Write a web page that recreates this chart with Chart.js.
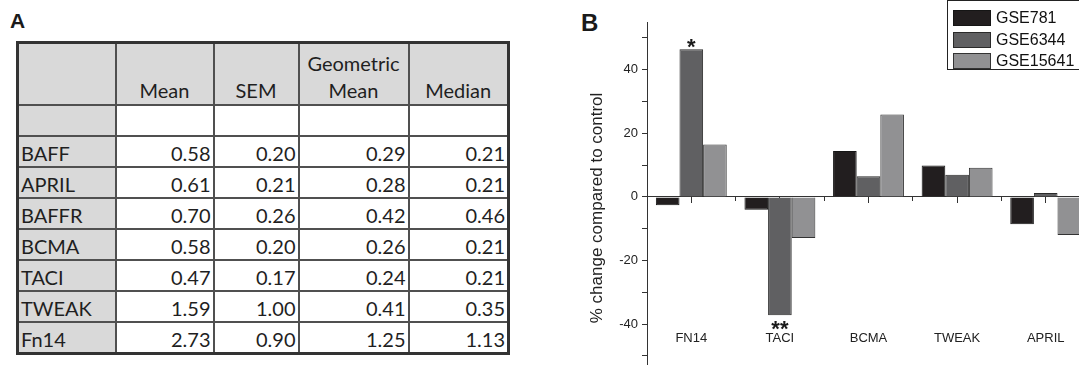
<!DOCTYPE html>
<html>
<head>
<meta charset="utf-8">
<script src="https://cdn.jsdelivr.net/npm/chart.js@4.4.1/dist/chart.umd.min.js"></script>
<style>
  html, body { margin: 0; padding: 0; background: #fff; width: 1079px; height: 365px; overflow: hidden; position: relative; }
  .panel-label { position: absolute; font-family: "Liberation Sans", Arial, sans-serif; font-weight: bold; color: #1a1a1a; }
  #labelA { left: 10px; top: 9px; font-size: 21px; }
  #labelB { left: 581px; top: 9px; font-size: 24px; }
  #statsTable { position: absolute; left: 16px; top: 41px; border-collapse: collapse; table-layout: fixed; width: 491px;
    font-family: Lato, "Open Sans", sans-serif; font-size: 20px; color: #1f1f1f; border: 3px solid #333; }
  #statsTable td { border: 2px solid #505050; padding: 0 2px 1px 2px; vertical-align: bottom; line-height: 24px; white-space: nowrap; overflow: hidden; }
  #statsTable tr.head td { height: 60px; background: #d9d9d9; text-align: center; line-height: 27px; padding-bottom: 0; }
  #statsTable tr.blank td { height: 28px; }
  #statsTable tr.row td { height: 28px; }
  #statsTable td.lab { background: #d9d9d9; text-align: left; }
  #statsTable td.num { text-align: right; }
  #chartB { position: absolute; left: 570px; top: 0; }
</style>
</head>
<body>
<div id="labelA" class="panel-label">A</div>
<table id="statsTable"></table>
<div id="labelB" class="panel-label">B</div>
<canvas id="chartB" width="520" height="375"></canvas>
<script>
// panel A - summary table
const tableHeaders = ['Mean', 'SEM', 'Geometric<br>Mean', 'Median'];
const markers = ['BAFF', 'APRIL', 'BAFFR', 'BCMA', 'TACI', 'TWEAK', 'Fn14'];
const meanVals = [0.58, 0.61, 0.70, 0.58, 0.47, 1.59, 2.73];
const semVals = [0.20, 0.21, 0.26, 0.20, 0.17, 1.00, 0.90];
const geoMeanVals = [0.29, 0.28, 0.42, 0.26, 0.24, 0.41, 1.25];
const medianVals = [0.21, 0.21, 0.46, 0.21, 0.21, 0.35, 1.13];

// panel B - % change compared to control
const categories = ['FN14', 'TACI', 'BCMA', 'TWEAK', 'APRIL'];
const seriesNames = ['GSE781', 'GSE6344', 'GSE15641'];
const gse781 = [-2.6, -4.0, 14.4, 9.9, -8.6];
const gse6344 = [46.4, -37.2, 6.5, 7.0, 1.2];
const gse15641 = [16.5, -12.9, 25.9, 9.2, -12.0];
const sigMarks = ['*', '**', '', '', ''];   // drawn on GSE6344 bars

const FONT = '"Liberation Sans", Arial, sans-serif';

function buildTable() {
  const table = document.getElementById('statsTable');
  let html = '<colgroup><col style="width:98px"><col style="width:98px"><col style="width:85px"><col style="width:110px"><col style="width:100px"></colgroup>';
  html += '<tr class="head"><td class="lab"></td>' + tableHeaders.map(h => '<td>' + h + '</td>').join('') + '</tr>';
  html += '<tr class="blank"><td class="lab"></td><td></td><td></td><td></td><td></td></tr>';
  markers.forEach((m, i) => {
    const cells = [meanVals[i], semVals[i], geoMeanVals[i], medianVals[i]]
      .map(v => '<td class="num">' + v.toFixed(2) + '</td>').join('');
    html += '<tr class="row"><td class="lab">' + m + '</td>' + cells + '</tr>';
  });
  table.innerHTML = html;
}

// asterisks over / under the GSE6344 bars
const sigPlugin = {
  id: 'sigPlugin',
  afterDatasetsDraw(chart) {
    const meta = chart.getDatasetMeta(1);
    const c = chart.ctx;
    const size = 22;
    c.save();
    c.font = 'bold ' + size + 'px ' + FONT;
    c.fillStyle = '#1a1a1a';
    c.textAlign = 'center';
    c.textBaseline = 'alphabetic';
    sigMarks.forEach((mark, i) => {
      if (!mark) return;
      const bar = meta.data[i];
      const cy = gse6344[i] >= 0 ? bar.y - 8 : bar.y + 8;
      c.fillText(mark, bar.x, cy + 0.57 * size);
    });
    c.restore();
  }
};

// boxed legend in the top right corner
const boxLegend = {
  id: 'boxLegend',
  afterDraw(chart) {
    const c = chart.ctx;
    c.save();
    c.fillStyle = '#fff';
    c.fillRect(377.5, 0.5, 200, 69);
    c.strokeStyle = '#222';
    c.lineWidth = 1;
    c.strokeRect(377.5, 0.5, 200, 69);
    chart.data.datasets.forEach((ds, i) => {
      const top = 10 + i * 21.5;
      c.fillStyle = ds.backgroundColor;
      c.fillRect(383.5, Math.round(top) + 0.5, 37, 15);
      c.strokeStyle = ds.borderColor;
      c.strokeRect(383.5, Math.round(top) + 0.5, 37, 15);
      c.fillStyle = '#111';
      c.font = '16px ' + FONT;
      c.textAlign = 'left';
      c.textBaseline = 'middle';
      c.fillText(ds.label, 426, top + 8.7);
    });
    c.restore();
  }
};

// the x axes sit on the zero line, so they must not ask the layout for side padding
function noSidePadding(scale) {
  scale.paddingLeft = 0;
  scale.paddingRight = 0;
}

function buildChart() {
  const ctx = document.getElementById('chartB');
  const tickFont = { family: FONT, size: 13 };
  return new Chart(ctx, {
    type: 'bar',
    data: {
      labels: categories,
      datasets: [
        { label: seriesNames[0], data: gse781, backgroundColor: '#221e1f', borderColor: '#151515', borderWidth: 1 },
        { label: seriesNames[1], data: gse6344, backgroundColor: '#606062', borderColor: '#2a2a2a', borderWidth: 1 },
        { label: seriesNames[2], data: gse15641, backgroundColor: '#919193', borderColor: '#333333', borderWidth: 1 }
      ]
    },
    options: {
      responsive: false,
      animation: false,
      devicePixelRatio: 1,
      layout: { padding: { top: 22, right: 0, bottom: 0, left: 0 } },
      datasets: { bar: { categoryPercentage: 0.8, barPercentage: 1.0 } },
      plugins: { legend: { display: false }, tooltip: { enabled: false } },
      scales: {
        x: {
          type: 'category',
          position: { y: 0 },
          offset: true,
          grid: { drawOnChartArea: false, offset: false, tickLength: 6, color: '#333' },
          border: { display: true, color: '#333', width: 1 },
          ticks: { padding: 128, font: tickFont, color: '#222', maxRotation: 0, autoSkip: false },
          afterFit: noSidePadding
        },
        x2: {
          type: 'category',
          axis: 'x',
          labels: categories,
          position: { y: 0 },
          offset: true,
          grid: { drawOnChartArea: false, offset: true, tickLength: 4, color: '#333' },
          border: { display: false },
          ticks: { display: false },
          afterFit: noSidePadding
        },
        y: {
          position: 'left',
          min: -56,
          max: 55,
          ticks: {
            stepSize: 10,
            includeBounds: false,
            padding: 4,
            font: tickFont,
            color: '#222',
            callback: v => (v % 20 === 0 ? String(v) : '')
          },
          grid: { drawOnChartArea: false, tickLength: 5, color: '#333' },
          border: { color: '#333', width: 1 },
          title: {
            display: true,
            text: '% change compared to control    ',
            font: { family: FONT, size: 17 },
            color: '#222',
            padding: { top: 17, bottom: 0 }
          },
          afterFit: scale => {
            scale.width = 77;
            scale.paddingTop = 0;
            scale.paddingBottom = 0;
          }
        }
      }
    },
    plugins: [sigPlugin, boxLegend]
  });
}

buildTable();
buildChart();
</script>
</body>
</html>
